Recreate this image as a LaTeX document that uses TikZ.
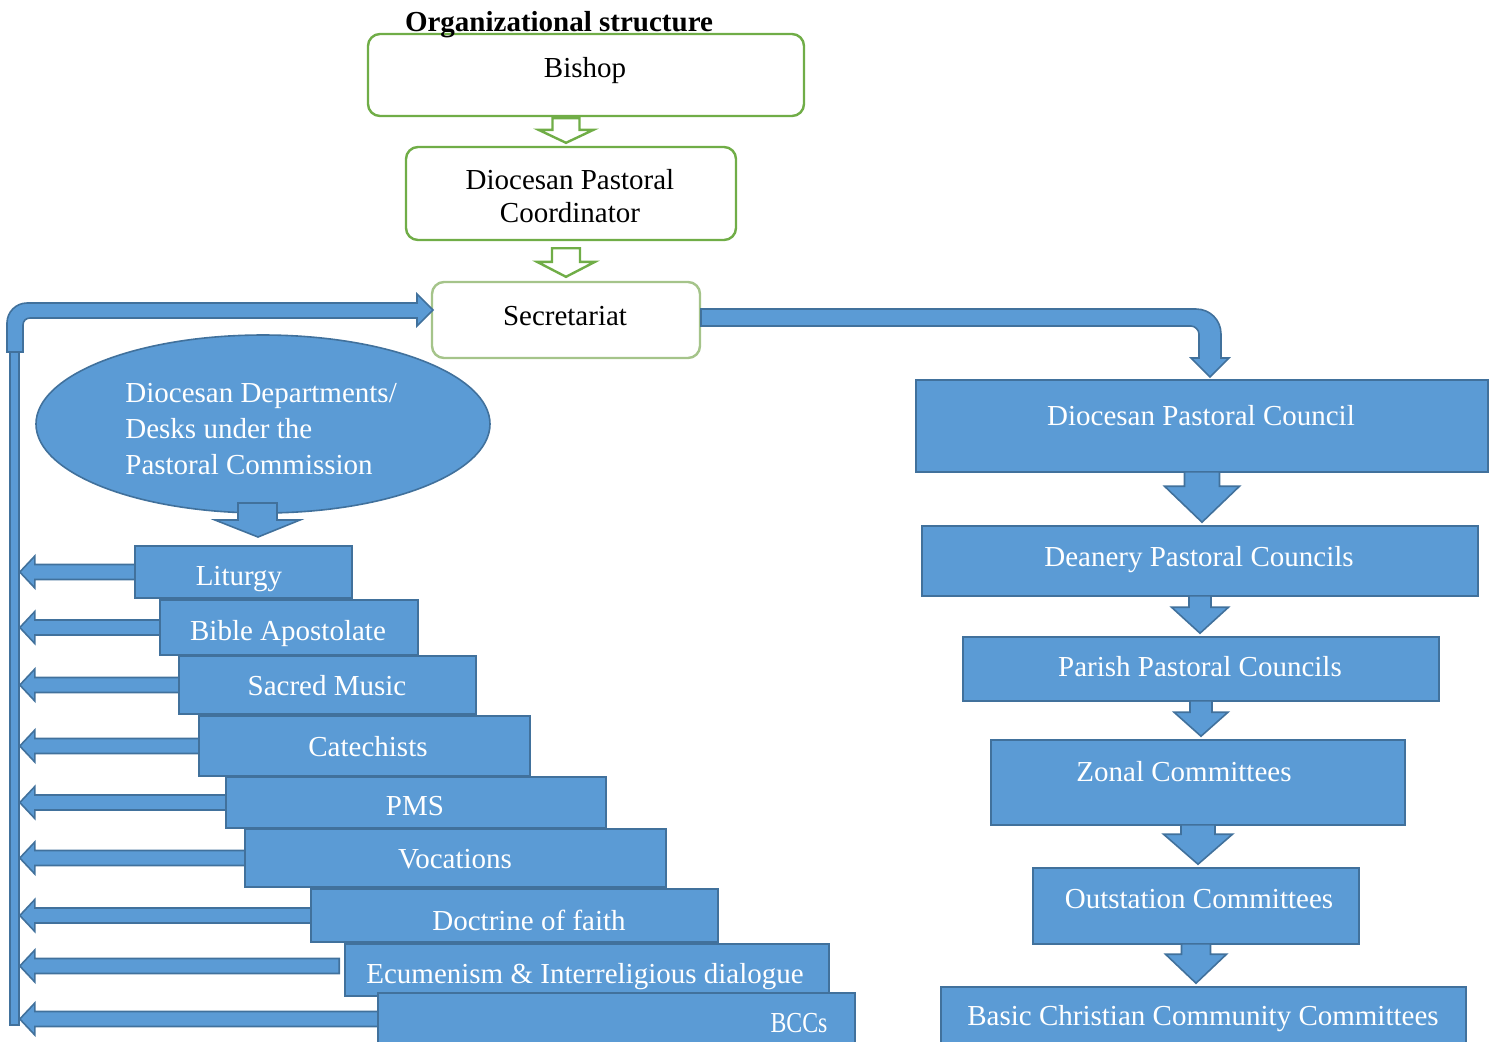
\documentclass[tikz,border=0pt]{standalone}
\usepackage{fontspec}
\usepackage{graphicx}
\setmainfont{Liberation Serif}
\usetikzlibrary{shapes.geometric,calc,backgrounds}
\definecolor{bfill}{HTML}{5B9BD5}
\definecolor{bline}{HTML}{41719C}
\definecolor{gline}{HTML}{70AD47}
\definecolor{sline}{HTML}{A5C48A}
% left-pointing block arrow: #1 shaft end, #2 tip
\newcommand\leftblock[2]{%
  \draw[blk] ($(#1)+(2,-7.5)$) -- ($(#2)+(15,-7.5)$) -- ($(#2)+(15,-16)$) -- (#2)
    -- ($(#2)+(15,16)$) -- ($(#2)+(15,7.5)$) -- ($(#1)+(2,7.5)$) -- cycle;}
% downward block arrow: from, to, shaft half, head half, head length
\newcommand\downblock[5]{%
  \coordinate (s) at (#1.south);
  \coordinate (t) at ($(#1.south|-#2.north)+(0,-3)$);
  \draw[blk] ($(s)+(-#3,-1)$) -- ($(t)+(-#3,-#5)$) -- ($(t)+(-#4,-#5)$) -- (t)
    -- ($(t)+(#4,-#5)$) -- ($(t)+(#3,-#5)$) -- ($(s)+(#3,-1)$) -- cycle;}
% hollow green arrow: from, to, shaft half, head half, head length, start offset, tip gap
\newcommand\gblock[7]{%
  \coordinate (s) at ($(#1.south-|sec.north)+(0,#6)$);
  \coordinate (t) at ($(sec.north|-#2.north)+(0,-#7)$);
  \draw[garrow] ($(s)+(-#3,0)$) -- ($(t)+(-#3,-#5)$) -- ($(t)+(-#4,-#5)$) -- (t)
    -- ($(t)+(#4,-#5)$) -- ($(t)+(#3,-#5)$) -- ($(s)+(#3,0)$) -- cycle;}
\begin{document}
\begin{tikzpicture}[x=0.5pt,y=-0.5pt,
  txt/.style={font=\fontsize{14.5}{16}\selectfont, anchor=base, inner sep=0},
  wtxt/.style={txt, text=white},
  gbox/.style={draw=gline, line width=1.2pt, rounded corners=6pt, fill=white, inner sep=0},
  sbox/.style={draw=sline, line width=1.2pt, rounded corners=6pt, fill=white, inner sep=0},
  bbox/.style={draw=bline, line width=0.8pt, fill=bfill, inner sep=0},
  blk/.style={draw=bline, line width=0.8pt, fill=bfill, line join=miter},
  garrow/.style={draw=gline, line width=1.2pt, fill=white, line join=miter}]
\useasboundingbox (0,0) rectangle (1494,1041);
\clip (0,0) rectangle (1494,1041);

% top green boxes
\node[gbox, minimum width=218pt, minimum height=41pt] (bishop) at (586,75) {};
\node[txt] at (585,77) {Bishop};
\node[txt, font=\fontsize{14.5}{16}\selectfont\bfseries] (title) at (559,31) {Organizational structure};
\node[gbox, minimum width=165pt, minimum height=46.5pt] (dpcc) at (571,193.5) {};
\node[txt] at (570,189) {Diocesan Pastoral};
\node[txt] at (570,222) {Coordinator};
\node[sbox, minimum width=134pt, minimum height=38pt] (sec) at (566,320) {};
\node[txt] at (565,325) {Secretariat};

\gblock{bishop}{dpcc}{13.5}{27.5}{13}{1}{3}
\gblock{dpcc}{sec}{14}{29}{15}{7}{4}

% ellipse
\node[ellipse, draw=bline, line width=0.8pt, fill=bfill, minimum width=227pt, minimum height=89pt, inner sep=0] (ell) at (263,424) {};
\node[wtxt, anchor=base west] at (125,402) {Diocesan Departments/};
\node[wtxt, anchor=base west] at (125,438) {Desks under the};
\node[wtxt, anchor=base west] at (125,474) {Pastoral Commission};
\draw[blk] (238,503) -- (238,520) -- (215,520) -- (258,537) -- (300,520) -- (277,520) -- (277,503) -- cycle;

% staircase of departments
\node[bbox, minimum width=108.5pt, minimum height=26pt] (lit) at (243.5,572) {};
\node[wtxt] at (239,585) {Liturgy};
\node[bbox, minimum width=129pt, minimum height=27.5pt] (bib) at (289,627.5) {};
\node[wtxt] at (288,640) {Bible Apostolate};
\node[bbox, minimum width=148.5pt, minimum height=29pt] (sac) at (327.5,685) {};
\node[wtxt] at (327,695) {Sacred Music};
\node[bbox, minimum width=165.5pt, minimum height=30pt] (cat) at (364.5,746) {};
\node[wtxt] at (368,756) {Catechists};
\node[bbox, minimum width=190pt, minimum height=25.5pt] (pms) at (416,802.5) {};
\node[wtxt] at (415,815) {PMS};
\node[bbox, minimum width=210.5pt, minimum height=29pt] (voc) at (455.5,858) {};
\node[wtxt] at (455,868) {Vocations};
\node[bbox, minimum width=203.5pt, minimum height=26.5pt] (doc) at (514.5,915.5) {};
\node[wtxt] at (529,930) {Doctrine of faith};
\node[bbox, minimum width=242pt, minimum height=26pt] (ecu) at (587,970) {};
\node[wtxt] at (585,983) {Ecumenism \& Interreligious dialogue};
\node[bbox, minimum width=238.5pt, minimum height=26pt] (bccs) at (616.5,1019) {};
\node[wtxt] at (799,1032) {\scalebox{0.82}[1]{BCCs}};

% return bar and arrows (behind the boxes)
\begin{pgfonlayer}{background}
\node[bbox, minimum width=4.5pt, minimum height=337.5pt] (bar) at (14.5,687.5) {};
\coordinate (ecuend) at ($(ecu.west)+(-7,-4)$);
\foreach \b in {lit,bib,sac,cat,pms,voc,doc,bccs}{
  \coordinate (tip\b) at (bar.east|-\b.west);
  \leftblock{\b.west}{tip\b}
}
\coordinate (tipecu) at (bar.east|-ecuend);
\leftblock{ecuend}{tipecu}
\end{pgfonlayer}

% bent arrow back to the secretariat
\draw[blk] (7,352) -- (7,323) .. controls (7,312) and (16,303) .. (27,303) -- (417,303) -- (417,294)
  -- (433,310) -- (417,326) -- (417,318) -- (30,318) .. controls (26,318) and (23,321) .. (23,325)
  -- (23,352) -- cycle;

% right column
\node[bbox, minimum width=286pt, minimum height=46pt] (dpc) at (1202,426) {};
\node[wtxt] at (1201,425) {Diocesan Pastoral Council};
\node[bbox, minimum width=278pt, minimum height=35pt] (dean) at (1200,561) {};
\node[wtxt] at (1199,566) {Deanery Pastoral Councils};
\node[bbox, minimum width=238pt, minimum height=32pt] (par) at (1201,669) {};
\node[wtxt] at (1200,676) {Parish Pastoral Councils};
\node[bbox, minimum width=207pt, minimum height=42.5pt] (zon) at (1198,782.5) {};
\node[wtxt] at (1184,781) {Zonal Committees};
\node[bbox, minimum width=163pt, minimum height=38pt] (out) at (1196,906) {};
\node[wtxt] at (1199,908) {Outstation Committees};
\node[bbox, minimum width=262.5pt, minimum height=29pt] (bcc) at (1203.5,1016) {};
\node[wtxt] at (1203,1025) {Basic Christian Community Committees};

\draw[blk] (701,309) -- (1196,309) .. controls (1210,309) and (1221,320) .. (1221,334) -- (1221,358)
  -- (1229,358) -- (1210,377) -- (1191,358) -- (1199,358) -- (1199,334)
  .. controls (1199,330) and (1195,326) .. (1191,326) -- (701,326) -- cycle;

\downblock{dpc}{dean}{17.5}{37.5}{36}
\downblock{dean}{par}{11}{28.5}{26}
\downblock{par}{zon}{11}{27}{24}
\downblock{zon}{out}{17}{34.5}{30}
\downblock{out}{bcc}{14.5}{30.5}{29}
\end{tikzpicture}
\end{document}
